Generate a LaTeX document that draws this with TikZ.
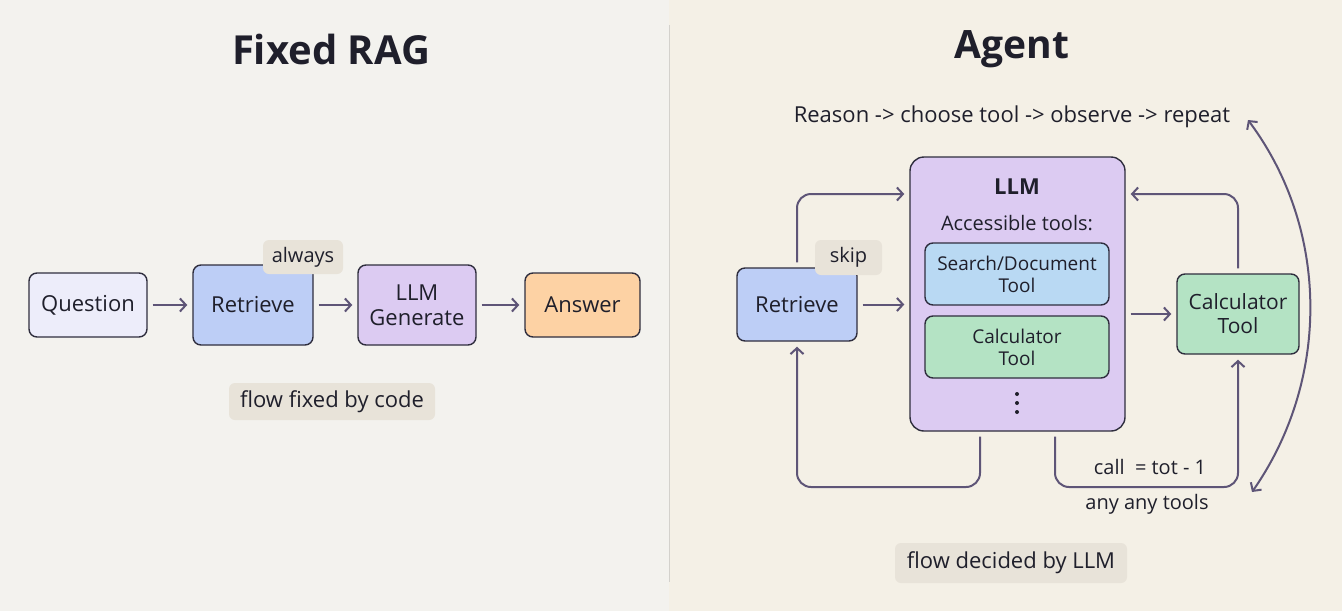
\documentclass[tikz,border=0pt]{standalone}
\usepackage{fontspec}
\setmainfont{Open Sans}
\usepackage{tikz}
\usetikzlibrary{arrows.meta,positioning,shapes}
\usepackage{xcolor}

\definecolor{bgleft}{HTML}{F3F2EE}
\definecolor{bgright}{HTML}{F4F0E6}
\definecolor{divider}{HTML}{D3D1CC}
\definecolor{ink}{HTML}{1F1F2B}
\definecolor{edge}{HTML}{2F2E3E}
\definecolor{flow}{HTML}{5E5577}
\definecolor{qfill}{HTML}{EDEDFA}
\definecolor{retfill}{HTML}{BDCEF6}
\definecolor{llmfill}{HTML}{DCCBF2}
\definecolor{ansfill}{HTML}{FDD2A4}
\definecolor{tagfill}{HTML}{E8E3D9}
\definecolor{searchfill}{HTML}{B9D9F3}
\definecolor{calcfill}{HTML}{B4E3C4}

\newcommand{\txt}{\fontsize{22}{26}\selectfont}
\newcommand{\midtxt}{\fontsize{20}{24}\selectfont}
\newcommand{\smalltxt}{\fontsize{19}{23}\selectfont}

\begin{document}
\begin{tikzpicture}[x=1pt, y=-1pt,
  box/.style={draw=edge, line width=1.4pt, rounded corners=8pt, align=center,
    text=ink, font=\txt, inner sep=0pt},
  tag/.style={fill=tagfill, rounded corners=6pt, text=ink, font=\midtxt, inner sep=0pt},
  arr/.style={draw=flow, line width=2pt, -{Straight Barb[length=6pt,width=13pt,line width=2pt]}},
  loop/.style={arr, rounded corners=14pt, shorten >=5pt, shorten <=5pt}]

  \useasboundingbox (0,0) rectangle (1342,611);
  \fill[bgleft] (0,0) rectangle (669,611);
  \fill[bgright] (669,0) rectangle (1342,611);
  \draw[divider, line width=1pt] (669,25) -- (669,582);

  % fixed RAG side
  \node[text=ink, font=\fontsize{40}{46}\selectfont\bfseries] (title1) at (331,49) {Fixed RAG};

  \node[box, fill=qfill, minimum width=118pt, minimum height=64pt] (q) at (88,305) {Question};
  \node[box, fill=retfill, minimum width=120pt, minimum height=80pt] (ret1) at (253,305) {Retrieve};
  \node[box, fill=llmfill, minimum width=118pt, minimum height=80pt] (gen) at (417,305) {LLM\\[-1pt]Generate};
  \node[box, fill=ansfill, minimum width=115pt, minimum height=64pt] (ans) at (582.5,305) {Answer};
  \node[tag, minimum width=80pt, minimum height=34pt] (always) at (303,257) {always};
  \node[tag, font=\txt, minimum width=206pt, minimum height=37pt] (fixed) at (332,401.5) {flow fixed by code};

  \draw[arr, shorten >=5pt, shorten <=5pt] (q) -- (ret1);
  \draw[arr, shorten >=5pt, shorten <=5pt] (ret1) -- (gen);
  \draw[arr, shorten >=5pt, shorten <=5pt] (gen) -- (ans);

  % agent side
  \node[text=ink, font=\fontsize{39}{45}\selectfont\bfseries] (title2) at (1012,49) {Agent};
  \node[text=ink, font=\txt] (cycle) at (1012,117) {Reason -> choose tool -> observe -> repeat};

  \node[box, fill=llmfill, rounded corners=14pt, minimum width=215pt, minimum height=274pt] (llm) at (1017.5,294) {};
  \node[text=ink, font=\txt\bfseries] (llmname) at (1017,187) {LLM};
  \node[text=ink, font=\midtxt] (access) at (1017,223) {Accessible tools:};
  \node[box, font=\smalltxt, fill=searchfill, minimum width=184pt, minimum height=62pt] (search) at (1017,274) {Search/Document\\[-1pt]Tool};
  \node[box, font=\smalltxt, fill=calcfill, minimum width=184pt, minimum height=62pt] (calc1) at (1017,347) {Calculator\\[-1pt]Tool};
  \foreach \y in {394,403,412}
    \fill[ink] (1017,\y) circle (2pt);

  \node[box, fill=retfill, minimum width=120pt, minimum height=73pt] (ret2) at (797,304.5) {Retrieve};
  \node[tag, minimum width=67pt, minimum height=35pt] (skip) at (848.5,257.5) {skip};
  \node[box, font=\fontsize{21}{25}\selectfont, fill=calcfill, minimum width=122pt, minimum height=80pt] (calc2) at (1238,314) {Calculator\\[-1pt]Tool};

  \node[tag, font=\txt, minimum width=232pt, minimum height=40pt] (decided) at (1011,563) {flow decided by LLM};
  \node[text=ink, font=\midtxt] (calls) at (1150,467) {call\ \ = tot - 1};
  \node[text=ink, font=\midtxt] (anytools) at (1147,504) {any any tools};

  \draw[arr, shorten >=5pt, shorten <=5pt] (ret2.east) -- (ret2.east -| llm.west);
  \draw[arr, shorten >=5pt, shorten <=5pt] (llm.east |- calc2.west) -- (calc2.west);
  \draw[loop] (ret2.north) |- (llm.west |- 0,194);
  \draw[loop] (calc2.north) |- (llm.east |- 0,194);
  \draw[loop] (llm.south -| 980,0) -- (980,487) -| (ret2.south);
  \draw[loop] (llm.south -| 1055,0) -- (1055,487) -| (calc2.south);

  \coordinate (looptop) at (1248,120);
  \coordinate (loopbot) at (1252,492);
  \draw[arr, {Straight Barb[length=6pt,width=13pt,line width=2pt]}-{Straight Barb[length=6pt,width=13pt,line width=2pt]}]
    (looptop) .. controls (1330,230) and (1330,380) .. (loopbot);
\end{tikzpicture}
\end{document}
